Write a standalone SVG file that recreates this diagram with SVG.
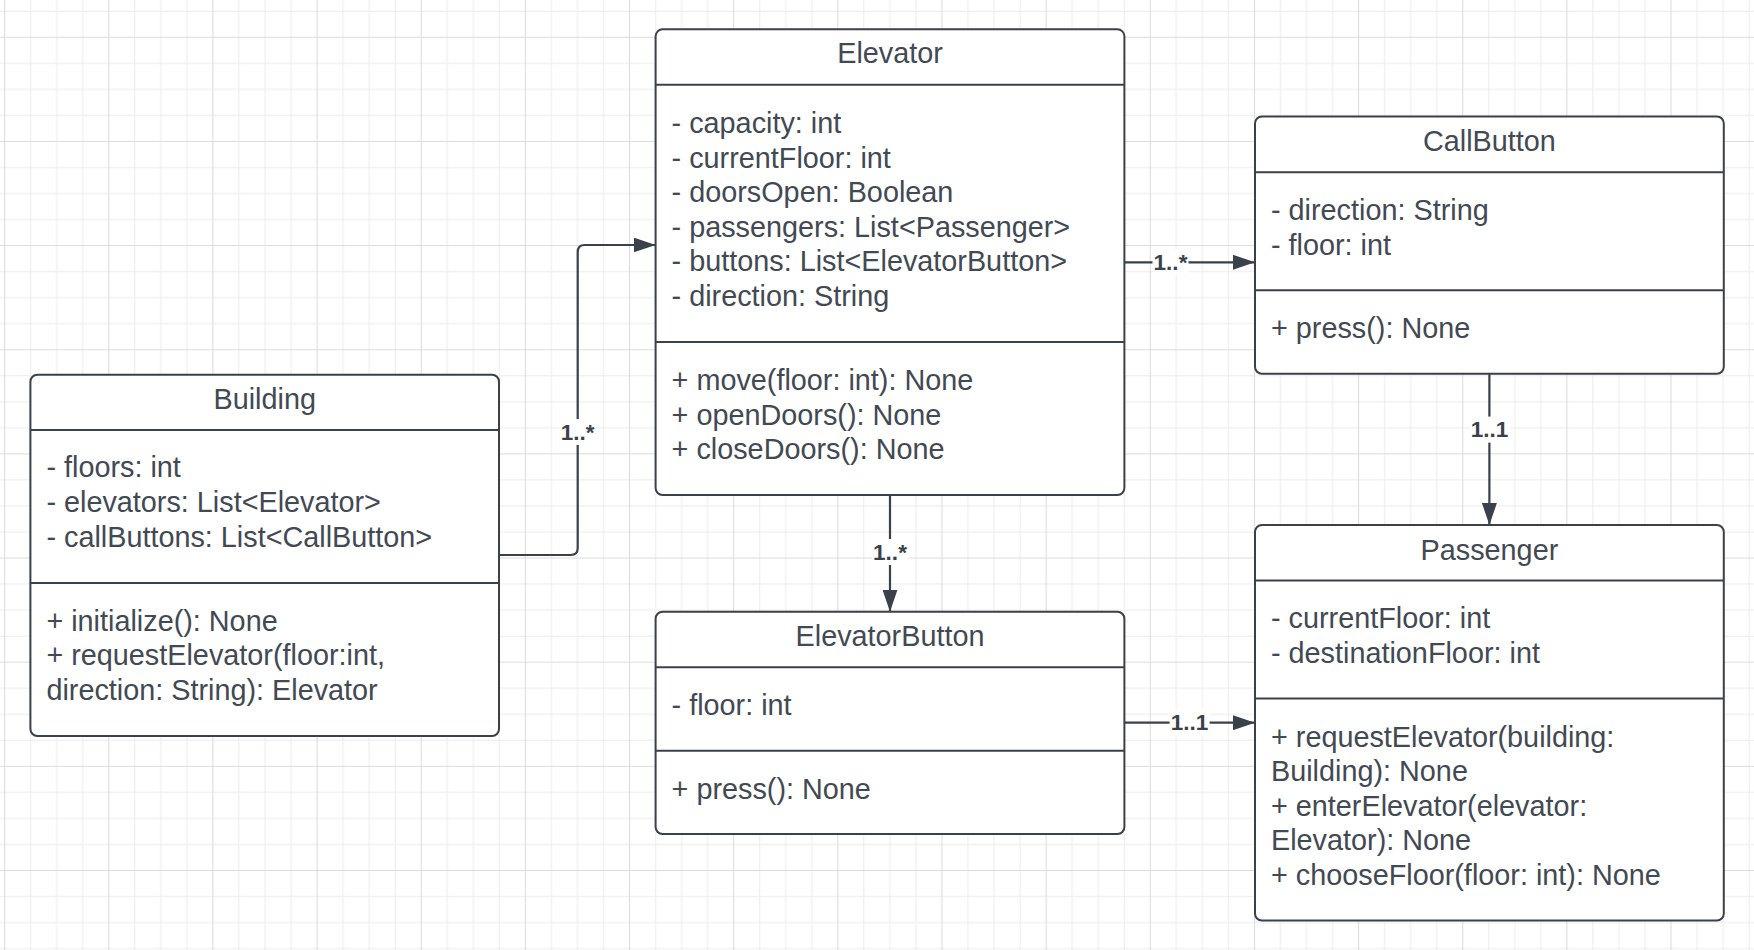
<svg xmlns="http://www.w3.org/2000/svg" width="1754" height="950" viewBox="0 0 1754 950">
<defs>
<pattern id="grid" patternUnits="userSpaceOnUse" x="4.1" y="36.8" width="104.15" height="104.15">
<path d="M26.54 0V104.15M52.58 0V104.15M78.61 0V104.15M0 26.54H104.15M0 52.58H104.15M0 78.61H104.15" stroke="#ececec" stroke-width="1" fill="none"/>
<path d="M0.5 0V104.15M0 0.5H104.15" stroke="#dcdcdc" stroke-width="1.2" fill="none"/>
</pattern>
<marker id="arr" markerUnits="userSpaceOnUse" viewBox="0 0 22 15" refX="22" refY="7.5" markerWidth="22" markerHeight="15" orient="auto">
<path d="M0,0 L22,7.5 L0,15 Z" fill="#3a414a"/>
</marker>
<style>
.box{fill:#ffffff;stroke:#3a414a;stroke-width:2}
.div{stroke:#3a414a;stroke-width:2}
.t{font-family:"Liberation Sans",Arial,sans-serif;font-size:28.8px;fill:#424953}
.h{text-anchor:middle}
.ln{fill:none;stroke:#3a414a;stroke-width:2.2}
.lb{font-family:"Liberation Sans",Arial,sans-serif;font-size:22.5px;font-weight:bold;fill:#3a414a;text-anchor:middle}
.lbg{fill:#ffffff}
</style>
</defs>
<rect width="1754" height="950" fill="#ffffff"/>
<rect width="1754" height="950" fill="url(#grid)"/>

<g id="connectors">
<path class="ln" d="M499,555 H570.7 Q577.7,555 577.7,548 V252 Q577.7,245 584.7,245 H655.6" marker-end="url(#arr)"/>
<path class="ln" d="M1124.4,262.3 H1255" marker-end="url(#arr)"/>
<path class="ln" d="M890,495 V611.7" marker-end="url(#arr)"/>
<path class="ln" d="M1489.4,373.8 V525" marker-end="url(#arr)"/>
<path class="ln" d="M1124.4,722.7 H1255" marker-end="url(#arr)"/>
<rect class="lbg" x="559.7" y="419" width="36" height="26"/>
<text class="lb" x="577.7" y="439.7">1..*</text>
<rect class="lbg" x="1152.5" y="249.3" width="36" height="26"/>
<text class="lb" x="1170.5" y="270">1..*</text>
<rect class="lbg" x="872" y="539" width="36" height="26"/>
<text class="lb" x="890" y="559.7">1..*</text>
<rect class="lbg" x="1469.4" y="416.6" width="40" height="26"/>
<text class="lb" x="1489.4" y="437.4">1..1</text>
<rect class="lbg" x="1169.6" y="709.7" width="40" height="26"/>
<text class="lb" x="1189.6" y="730.4">1..1</text>
</g>

<g id="building">
<rect class="box" x="30.4" y="374.7" width="468.6" height="361.3" rx="7"/>
<line class="div" x1="30.4" y1="430" x2="499" y2="430"/>
<line class="div" x1="30.4" y1="583" x2="499" y2="583"/>
<text class="t h" x="264.7" y="408.5">Building</text>
<text class="t" x="46.4" y="477.4">- floors: int</text>
<text class="t" x="46.4" y="512">- elevators: List&lt;Elevator&gt;</text>
<text class="t" x="46.4" y="546.6">- callButtons: List&lt;CallButton&gt;</text>
<text class="t" x="46.4" y="630.9">+ initialize(): None</text>
<text class="t" x="46.4" y="665.4">+ requestElevator(floor:int,</text>
<text class="t" x="46.4" y="700">direction: String): Elevator</text>
</g>

<g id="elevator">
<rect class="box" x="655.6" y="29.3" width="468.8" height="465.7" rx="7"/>
<line class="div" x1="655.6" y1="84.7" x2="1124.4" y2="84.7"/>
<line class="div" x1="655.6" y1="342" x2="1124.4" y2="342"/>
<text class="t h" x="890" y="63.3">Elevator</text>
<text class="t" x="671.6" y="133">- capacity: int</text>
<text class="t" x="671.6" y="167.6">- currentFloor: int</text>
<text class="t" x="671.6" y="202.1">- doorsOpen: Boolean</text>
<text class="t" x="671.6" y="236.7">- passengers: List&lt;Passenger&gt;</text>
<text class="t" x="671.6" y="271.2">- buttons: List&lt;ElevatorButton&gt;</text>
<text class="t" x="671.6" y="305.8">- direction: String</text>
<text class="t" x="671.6" y="390">+ move(floor: int): None</text>
<text class="t" x="671.6" y="424.6">+ openDoors(): None</text>
<text class="t" x="671.6" y="459.1">+ closeDoors(): None</text>
</g>

<g id="callbutton">
<rect class="box" x="1255" y="116.5" width="468.8" height="257.3" rx="7"/>
<line class="div" x1="1255" y1="172.3" x2="1723.8" y2="172.3"/>
<line class="div" x1="1255" y1="290.3" x2="1723.8" y2="290.3"/>
<text class="t h" x="1489.4" y="150.5">CallButton</text>
<text class="t" x="1271" y="220.2">- direction: String</text>
<text class="t" x="1271" y="254.6">- floor: int</text>
<text class="t" x="1271" y="338.3">+ press(): None</text>
</g>

<g id="elevatorbutton">
<rect class="box" x="655.6" y="611.7" width="468.8" height="222.3" rx="7"/>
<line class="div" x1="655.6" y1="667.3" x2="1124.4" y2="667.3"/>
<line class="div" x1="655.6" y1="750.7" x2="1124.4" y2="750.7"/>
<text class="t h" x="890" y="645.5">ElevatorButton</text>
<text class="t" x="671.6" y="715">- floor: int</text>
<text class="t" x="671.6" y="798.5">+ press(): None</text>
</g>

<g id="passenger">
<rect class="box" x="1255" y="525" width="468.8" height="395.5" rx="7"/>
<line class="div" x1="1255" y1="580.5" x2="1723.8" y2="580.5"/>
<line class="div" x1="1255" y1="698.5" x2="1723.8" y2="698.5"/>
<text class="t h" x="1489.4" y="559.5">Passenger</text>
<text class="t" x="1271" y="628.3">- currentFloor: int</text>
<text class="t" x="1271" y="662.9">- destinationFloor: int</text>
<text class="t" x="1271" y="746.5">+ requestElevator(building:</text>
<text class="t" x="1271" y="781">Building): None</text>
<text class="t" x="1271" y="815.6">+ enterElevator(elevator:</text>
<text class="t" x="1271" y="850.2">Elevator): None</text>
<text class="t" x="1271" y="884.7">+ chooseFloor(floor: int): None</text>
</g>
</svg>
